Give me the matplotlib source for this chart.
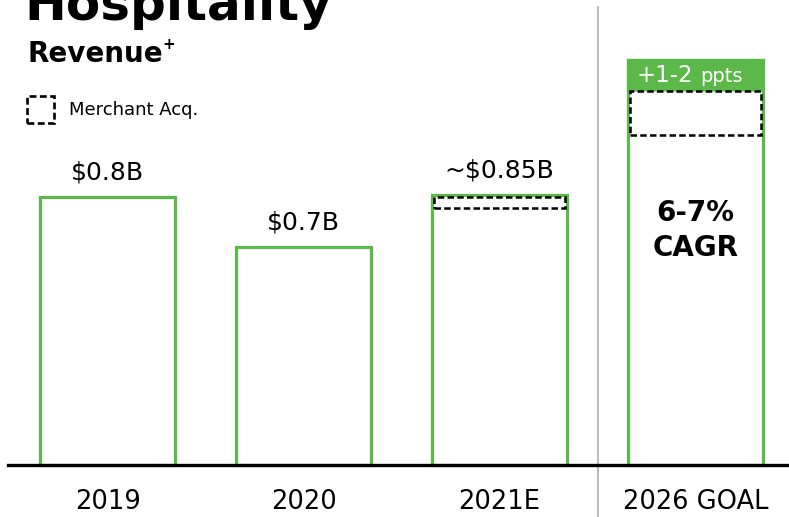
import matplotlib
matplotlib.use("Agg")
import matplotlib.pyplot as plt
from matplotlib.patches import Rectangle

plt.rcParams['font.family'] = ['DejaVu Sans']

# ---- data -------------------------------------------------------------
categories = ["2019", "2020", "2021E", "2026 GOAL"]
revenue = [0.80, 0.65, 0.806, 1.209]          # bar heights, $B
value_labels = ["$0.8B", "$0.7B", "~$0.85B", ""]
merchant_low = [None, None, 0.767, 0.985]      # dashed merchant-acquiring segment
merchant_high = [None, None, 0.800, 1.116]
goal_band = (1.119, 1.209)                     # green "+1-2 ppts" header on goal bar

GREEN = "#5cb848"
W, H = 789, 517

fig = plt.figure(figsize=(W / 100, H / 100), dpi=100)
ax = fig.add_axes([0, 0, 1, 1])
ax.set_xlim(-0.5485, 3.477)
ax.set_ylim(-0.1552, 1.388)
ax.axis("off")

def fx(px):
    return px / W

def fy(py):
    return 1 - py / H

xs = list(range(len(categories)))
bar_w = 0.69

# outlined bars
ax.bar(xs, revenue, width=bar_w, facecolor="none", edgecolor=GREEN,
       linewidth=2.3, zorder=2)

# green header band on the goal bar
ax.bar([3], [goal_band[1] - goal_band[0]], bottom=goal_band[0], width=bar_w,
       color=GREEN, edgecolor=GREEN, linewidth=2.3, zorder=3)

# dashed merchant acquiring segments
for x, lo, hi in zip(xs, merchant_low, merchant_high):
    if lo is None:
        continue
    ax.add_patch(Rectangle((x - bar_w / 2 + 0.012, lo), bar_w - 0.024, hi - lo,
                           facecolor="white", edgecolor="black", linewidth=1.8,
                           linestyle=(0, (2.6, 1.3)), zorder=4))

# value labels above bars
for x, v, lab in zip(xs, revenue, value_labels):
    if lab:
        ax.annotate(lab, (x, v), xytext=(0, 9), textcoords="offset points",
                    ha="center", va="bottom", fontsize=18, color="black")

# baseline and separator
ax.axhline(0, xmin=fx(8), xmax=1, color="black", linewidth=2.4, zorder=5)
ax.axvline(2.5, ymin=0, ymax=fy(7), color="#b3b3b3", linewidth=1.3, zorder=1)

# category labels
for x, c in zip(xs, categories):
    ax.text(x, -0.111, c, ha="center", va="center", fontsize=18.5, color="black")

# goal annotations
ax.text(3, 0.753, "6-7%", ha="center", va="center", fontsize=20,
        fontweight="bold", color="black", zorder=6)
ax.text(3, 0.647, "CAGR", ha="center", va="center", fontsize=20,
        fontweight="bold", color="black", zorder=6)
band_mid = (goal_band[0] + goal_band[1]) / 2
ax.text(2.99, band_mid, "+1-2", ha="right", va="center", fontsize=16.5,
        color="white", zorder=6)
ax.text(3.025, band_mid - 0.004, "ppts", ha="left", va="center", fontsize=14,
        color="white", zorder=6)

# headings
fig.text(fx(24), fy(20), "Hospitality", ha="left", va="baseline",
         fontsize=36, fontweight="bold", color="black")
fig.text(fx(27), fy(62), "Revenue", ha="left", va="baseline",
         fontsize=20, fontweight="bold", color="black")
fig.text(fx(162), fy(49), "+", ha="left", va="baseline",
         fontsize=11, fontweight="bold", color="black")

# legend
fig.patches.append(Rectangle((fx(27), fy(123)), fx(54) - fx(27), fy(96) - fy(123),
                             transform=fig.transFigure, facecolor="none",
                             edgecolor="black", linewidth=1.9,
                             linestyle=(0, (2.6, 1.3))))
fig.text(fx(69), fy(110), "Merchant Acq.", ha="left", va="center",
         fontsize=13, color="black")

fig.savefig("out.png", dpi=100)
